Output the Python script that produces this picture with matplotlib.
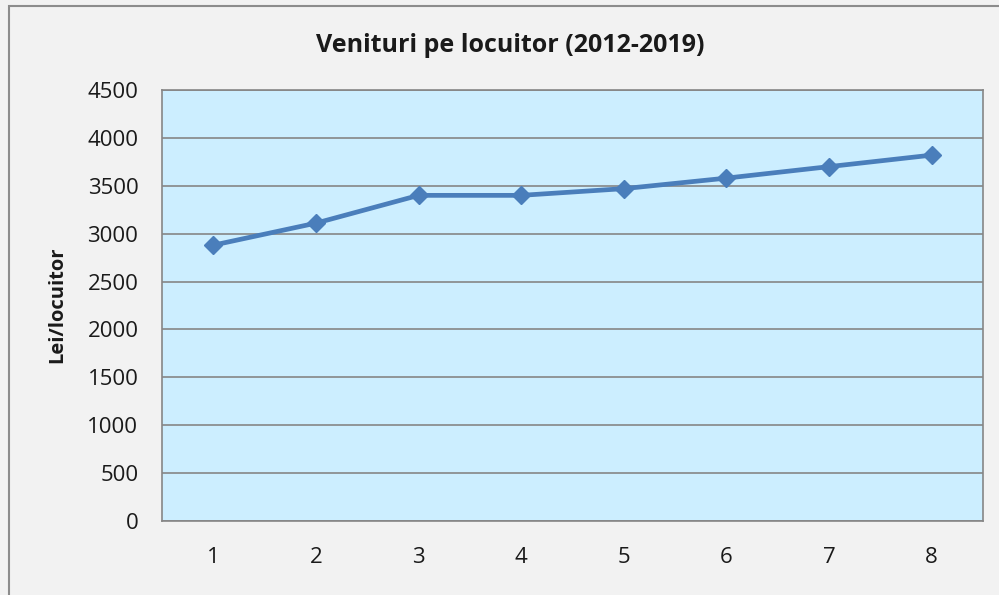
import matplotlib.pyplot as plt
from matplotlib.patches import Rectangle

# data
years_idx = [1, 2, 3, 4, 5, 6, 7, 8]
venituri = [2880, 3110, 3400, 3400, 3470, 3580, 3700, 3820]
y_ticks = [0, 500, 1000, 1500, 2000, 2500, 3000, 3500, 4000, 4500]

plt.rcParams['font.family'] = ['Open Sans', 'DejaVu Sans']

W, H = 999, 595
fig = plt.figure(figsize=(W / 100, H / 100), dpi=100)
fig.patch.set_facecolor('#f2f2f2')

# outer chart frame (only left/top edges visible in the crop)
fig.patches.append(Rectangle((9 / W, -0.1), 1.2, 1 - 6 / H + 0.1, transform=fig.transFigure,
                             fill=False, edgecolor='#8c8c8c', linewidth=1.5))

ax = fig.add_axes([162 / W, 1 - 521 / H, (983 - 162) / W, (521 - 90) / H])
ax.set_facecolor('#cceeff')

ax.plot(years_idx, venituri, color='#4a7ebb', linewidth=3.4, marker='D', markersize=9.5,
        markerfacecolor='#4a7ebb', markeredgecolor='#4a7ebb', zorder=3)

ax.set_xlim(0.5, 8.5)
ax.set_ylim(0, 4500)
ax.set_yticks(y_ticks)
ax.set_xticks(years_idx)
ax.grid(axis='y', color='#868686', linewidth=1.2)
ax.set_axisbelow(True)
ax.tick_params(length=0, labelsize=16, colors='#1a1a1a')
ax.tick_params(axis='y', pad=17)
ax.tick_params(axis='x', pad=19)
for s in ax.spines.values():
    s.set_color('#868686')
    s.set_linewidth(1.2)

fig.text(510 / W, 1 - 45 / H, 'Venituri pe locuitor (2012-2019)', ha='center', va='center',
         fontsize=18, fontweight='bold', color='#1a1a1a')
fig.text(57 / W, 1 - 305 / H, 'Lei/locuitor', ha='center', va='center', rotation=90,
         fontsize=14.5, fontweight='bold', color='#1a1a1a')

fig.savefig('out.png', dpi=100, facecolor=fig.get_facecolor())
